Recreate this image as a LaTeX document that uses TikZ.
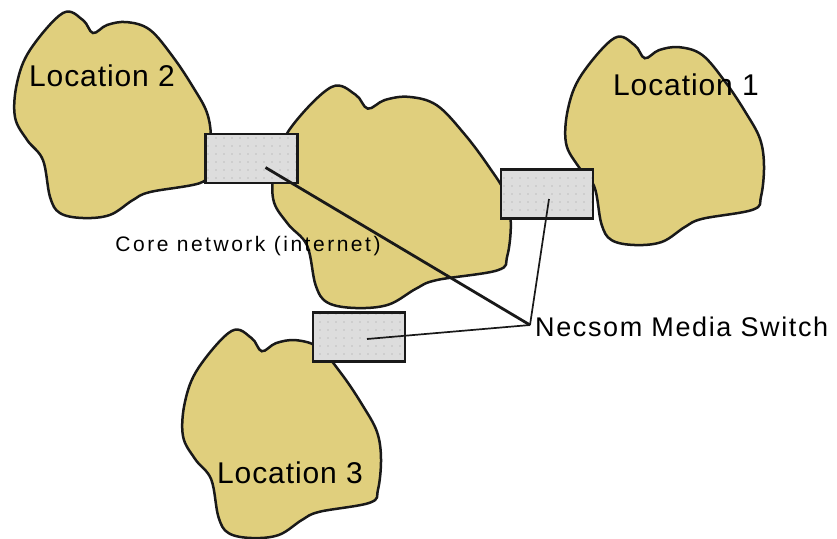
\documentclass[tikz,border=0pt]{standalone}
\usepackage{fontspec}
\setmainfont{Liberation Sans}
\usetikzlibrary{patterns.meta}
\definecolor{blobfill}{RGB}{224,207,125}
\definecolor{boxfill}{RGB}{221,221,221}
\definecolor{inkline}{RGB}{25,25,25}
\newcommand\myblob[4]{%
  \path[blobline, shift={(#1,#2)}, xscale=#3, yscale=#4]
    plot[smooth cycle, tension=0.6] coordinates {
      (0.247,0.005) (0.348,0.039) (0.399,0.102) (0.47,0.063) (0.571,0.049)
      (0.687,0.087) (0.803,0.218) (0.904,0.364) (0.975,0.49) (0.995,0.62)
      (0.98,0.767) (0.94,0.83) (0.687,0.874) (0.6,0.913) (0.485,0.985)
      (0.348,1.0) (0.232,0.976) (0.182,0.898) (0.146,0.718) (0.066,0.621)
      (0.005,0.51) (0.015,0.345) (0.081,0.184)};}
\tikzset{
  blobline/.style={draw=inkline, line width=2.5pt, fill=blobfill},
  switchbox/.style={draw=inkline, line width=2.2pt, preaction={fill=boxfill},
    pattern={Dots[distance=8pt, radius=0.6pt]}, pattern color=gray!75,
    minimum width=92pt, minimum height=49pt, inner sep=0pt},
  link/.style={draw=inkline, line width=1.7pt},
  biglink/.style={link, line width=2.8pt},
  loclabel/.style={inner sep=0pt, font=\fontsize{30}{36}\selectfont\addfontfeature{LetterSpace=3}},
  corelabel/.style={inner sep=0pt, font=\fontsize{21}{25}\selectfont\addfontfeature{LetterSpace=12}},
  swlabel/.style={inner sep=0pt, font=\fontsize{27}{32}\selectfont\addfontfeature{LetterSpace=6}}
}
\begin{document}
\begin{tikzpicture}[x=1pt, y=-1pt]
\useasboundingbox[fill=white] (0,0) rectangle (837,538);
% clouds
\myblob{14}{12}{198}{206}
\myblob{272}{86}{240}{222}
\myblob{565}{37}{200}{208}
\myblob{182}{330}{200}{208}
% switches
\node[switchbox] (boxA) at (251.5,158.5) {};
\node[switchbox] (boxB) at (547,194) {};
\node[switchbox] (boxC) at (359,337) {};
% labels
\node[loclabel] (loc2) at (102,76) {Location 2};
\node[loclabel] (loc1) at (686,85) {Location 1};
\node[loclabel] (loc3) at (290,473) {Location 3};
\node[corelabel] (core) at (248,246) {Core network (internet)};
\node[swlabel, anchor=west] (necsom) at (535,327) {Necsom Media Switch};
% connectors
\coordinate (pa) at ([shift={(14,9)}]boxA.center);
\coordinate (pb) at ([shift={(2,5)}]boxB.center);
\coordinate (pc) at ([shift={(8,2)}]boxC.center);
\coordinate (hub) at ([xshift=-5pt, yshift=2pt]necsom.west);
\draw[biglink] (pa) -- (hub);
\draw[link] (pb) -- (hub);
\draw[link] (pc) -- (hub);
\end{tikzpicture}
\end{document}
